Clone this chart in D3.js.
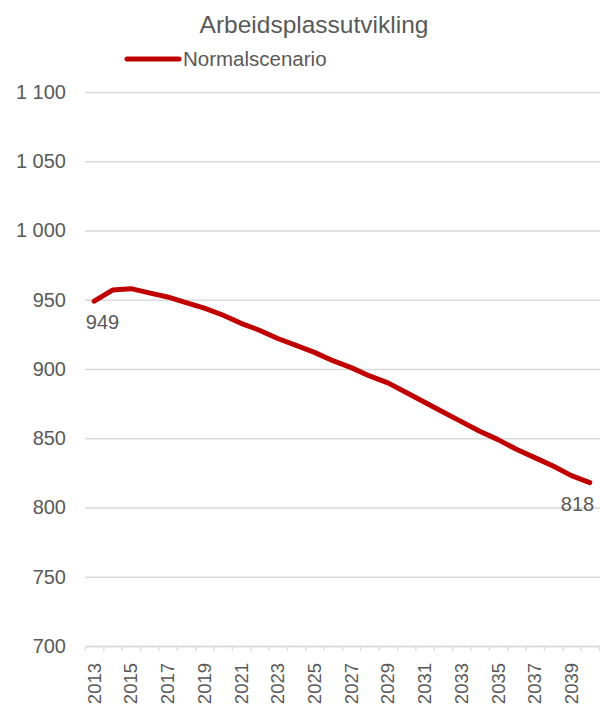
<!DOCTYPE html>
<html lang="no">
 <head>
 <meta http-equiv="Content-Type" content="text/html; charset=UTF-8">
        <title>Arbeidsplassutvikling</title>
        <script type="text/javascript" src="https://unpkg.com/d3@7/dist/d3.min.js"></script>
       <style type="text/css">
         body { margin: 0; background: #fff; }
         svg text { font-family: "Liberation Sans", Arial, sans-serif; fill: #595959; }
       </style>
    </head>
    <body>
        <script type="text/javascript">

          // data
          var years = d3.range(2013, 2041);
          var normalscenario = [ 949, 957, 958, 955, 952, 948, 944, 939, 933, 928,
                                 922, 917, 912, 906, 901, 895, 890, 883, 876, 869,
                                 862, 855, 849, 842, 836, 830, 823, 818 ];
          var yTicks = [ 700, 750, 800, 850, 900, 950, 1000, 1050, 1100 ];
          var yearLabels = years.filter( (d) => d % 2 === 1 );
          var labelledYears = [ 2013, 2040 ];
          var title = "Arbeidsplassutvikling";
          var seriesName = "Normalscenario";

          var ancho = 600;
          var alto = 706;
          var plotIzq = 85, plotDer = 599, plotArriba = 92, plotAbajo = 646;
          var rojo = "#c00000";
          var gris = "#d9d9d9";

          var svg = d3.select("body").append("svg")
                      .attr("width", ancho)
                      .attr("height", alto);

          var escalaX = d3.scaleBand().domain(years).range([plotIzq, plotDer]);
          var bordes = d3.scaleLinear().domain([0, years.length]).range([plotIzq, plotDer]);
          var escalaY = d3.scaleLinear().domain([700, 1100]).range([plotAbajo, plotArriba]);

          var fmt = d3.formatLocale({ decimal: ",", thousands: "\u00a0", grouping: [3], currency: ["", ""] }).format(",d");

          // y gridlines + labels
          var gy = svg.append("g")
             .attr("transform", "translate(" + plotIzq + ",0)")
             .call( d3.axisLeft(escalaY).tickValues(yTicks).tickFormat(fmt)
                      .tickSize(-(ancho - plotIzq)).tickPadding(19) );
          gy.select(".domain").remove();
          gy.selectAll("line").attr("stroke", gris).attr("stroke-width", 1.3);
          gy.selectAll("text").attr("font-size", "20px").attr("fill", "#595959");

          // x axis ticks between categories
          var gx = svg.append("g")
             .attr("transform", "translate(0," + plotAbajo + ")")
             .call( d3.axisBottom(bordes).tickValues(d3.range(years.length + 1))
                      .tickFormat("").tickSize(5).tickSizeOuter(0) );
          gx.select(".domain").attr("stroke", gris).attr("stroke-width", 1.3);
          gx.selectAll("line").attr("stroke", gris).attr("stroke-width", 1.3);

          // x labels, rotated
          var gl = svg.append("g")
             .attr("transform", "translate(0," + plotAbajo + ")")
             .call( d3.axisBottom(escalaX).tickValues(yearLabels).tickSize(0) );
          gl.select(".domain").remove();
          gl.selectAll("text")
            .attr("y", 0).attr("x", -17).attr("dy", "0.35em")
            .attr("transform", "rotate(-90)")
            .attr("font-size", "18.5px")
            .attr("fill", "#595959")
            .style("text-anchor", "end");

          // line
          var linea = d3.line()
             .x( (d, i) => escalaX(years[i]) + escalaX.bandwidth() / 2 )
             .y( (d) => escalaY(d) );

          svg.append("path")
             .datum(normalscenario)
             .attr("d", linea)
             .attr("fill", "none")
             .attr("stroke", rojo)
             .attr("stroke-width", 5)
             .attr("stroke-linejoin", "round")
             .attr("stroke-linecap", "round");

          // data labels below first and last point, kept inside the plot
          svg.selectAll("text.dataLabel")
             .data(labelledYears)
             .enter()
             .append("text")
             .attr("class", "dataLabel")
             .attr("font-size", "20px")
             .attr("text-anchor", "middle")
             .attr("x", function(d) {
                var cx = escalaX(d) + escalaX.bandwidth() / 2;
                return Math.min(Math.max(cx, plotIzq + 17.5), ancho - 5 - 17.5);
             })
             .attr("y", (d) => escalaY(normalscenario[years.indexOf(d)]) + 28)
             .text( (d) => normalscenario[years.indexOf(d)] );

          // title
          svg.append("text")
             .attr("x", 314)
             .attr("y", 33)
             .attr("text-anchor", "middle")
             .attr("font-size", "24.5px")
             .text(title);

          // legend
          var leg = svg.append("g").attr("transform", "translate(125,59)");
          leg.append("line")
             .attr("x1", 2).attr("x2", 54)
             .attr("stroke", rojo)
             .attr("stroke-width", 5)
             .attr("stroke-linecap", "round");
          leg.append("text")
             .attr("x", 58)
             .attr("y", 7)
             .attr("font-size", "20.5px")
             .text(seriesName);

        </script>
    </body>
</html>
